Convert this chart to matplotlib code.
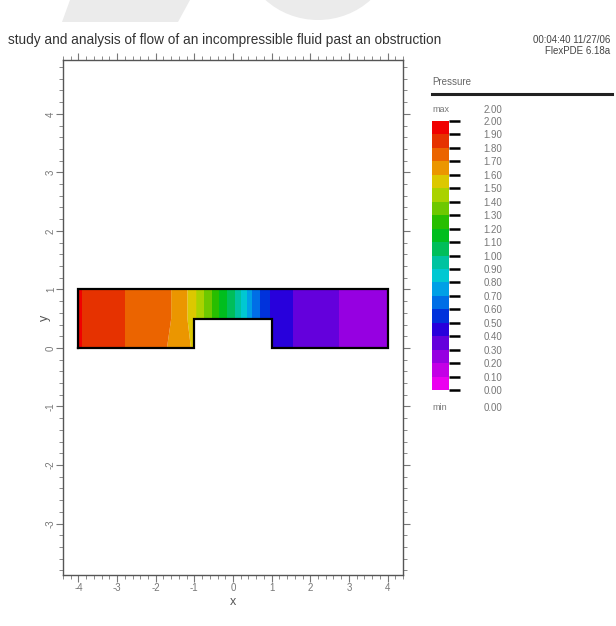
import numpy as np
import matplotlib
matplotlib.use("Agg")
import matplotlib.pyplot as plt
from matplotlib.colors import ListedColormap, BoundaryNorm
from matplotlib.patches import Polygon, Ellipse
from matplotlib.ticker import MultipleLocator

# ---------------- data ----------------
title = "study and analysis of flow of an incompressible fluid past an obstruction"
stamp1 = "00:04:40 11/27/06"
stamp2 = "FlexPDE 6.18a"

# sample positions along the channel (x) and rows (y)
x_nodes = [-4.0, -3.9, -2.8, -1.6, -1.18, -1.0, -0.95, -0.75, -0.55, -0.35, -0.15,
           0.05, 0.2, 0.35, 0.5, 0.7, 0.95, 1.0, 1.55, 2.75, 4.0]
y_nodes = [0.0, 0.5, 1.0]
# pressure (None = inside obstruction)
p_bottom = [1.97, 1.9, 1.8, 1.69, 1.62, 1.58, None, None, None, None, None,
            None, None, None, None, None, None, 0.47, 0.4, 0.3, 0.21]
p_middle = [1.97, 1.9, 1.8, 1.7, 1.6, 1.54, 1.5, 1.4, 1.3, 1.2, 1.1,
            1.0, 0.9, 0.8, 0.7, 0.6, 0.5, 0.49, 0.4, 0.3, 0.21]
p_top = [1.97, 1.9, 1.8, 1.7, 1.6, 1.54, 1.5, 1.4, 1.3, 1.2, 1.1,
         1.0, 0.9, 0.8, 0.7, 0.6, 0.5, 0.49, 0.4, 0.3, 0.21]

levels = [round(0.1 * i, 2) for i in range(21)]
band_colors = ['#eb00f0', '#c300e6', '#9600e1', '#6400dc', '#2800dc', '#0032dc',
               '#006ee6', '#00a0e6', '#00c8d2', '#00c3a0', '#00be5a', '#00be1e',
               '#28be00', '#6ec800', '#aad200', '#dcc800', '#eb9600', '#eb6400',
               '#e63200', '#f00000']

domain_x = [-4, -1, -1, 1, 1, 4, 4, -4, -4]
domain_y = [0, 0, 0.5, 0.5, 0, 0, 1, 1, 0]

# ---------------- figure ----------------
plt.rcParams['axes.unicode_minus'] = False
plt.rcParams['font.family'] = ['Liberation Sans', 'DejaVu Sans']
W, H = 616, 626
fig = plt.figure(figsize=(W / 100, H / 100), dpi=100)

# watermark shapes (light grey)
def px(x, y):
    return (x / W, 1 - y / H)
fig.patches.append(Polygon([px(70, 0), px(190, 0), px(178, 22), px(62, 22)],
                           closed=True, transform=fig.transFigure,
                           facecolor='#ebebeb', edgecolor='none', zorder=0))
fig.patches.append(Ellipse(px(318, -50), 150 / W, 140 / H, transform=fig.transFigure,
                           facecolor='#ebebeb', edgecolor='none', zorder=0))

ax = fig.add_axes([63 / W, 1 - 575 / H, 340 / W, 515 / H])

X, Y = np.meshgrid(np.array(x_nodes), np.array(y_nodes))
Z = np.array([[np.nan if v is None else v for v in row]
              for row in (p_bottom, p_middle, p_top)], dtype=float)
Z = np.ma.masked_invalid(Z)

cmap = ListedColormap(band_colors)
norm = BoundaryNorm(levels, cmap.N)
cf = ax.contourf(X, Y, Z, levels=levels, cmap=cmap, norm=norm, corner_mask=False,
                 antialiased=True)
ax.plot(domain_x, domain_y, color='black', lw=1.6, solid_joinstyle='miter')

ax.set_xlim(-4.4, 4.4)
ax.set_ylim(-3.88, 4.92)
ax.xaxis.set_major_locator(MultipleLocator(1))
ax.yaxis.set_major_locator(MultipleLocator(1))
ax.xaxis.set_minor_locator(MultipleLocator(0.2))
ax.yaxis.set_minor_locator(MultipleLocator(0.2))
ax.tick_params(which='both', direction='out', top=True, right=True,
               color='#777777', labelcolor='#777777', labelsize=7)
ax.tick_params(which='major', length=5, width=0.8)
ax.tick_params(which='minor', length=3, width=0.6)
ax.tick_params(axis='y', which='major', pad=0)
ax.tick_params(axis='x', which='major', pad=1)
for lab in ax.get_yticklabels():
    lab.set_rotation(90)
    lab.set_va('center')
for sp in ax.spines.values():
    sp.set_color('#555555')
    sp.set_linewidth(1.0)
ax.set_xlabel('x', color='#555555', fontsize=9, labelpad=2)
ax.set_ylabel('y', color='#555555', fontsize=9)
ax.yaxis.set_label_coords(-0.035, 0.5)

fig.text(8 / W, 1 - 40 / H, title, fontsize=9.8, color='#333333', va='center', ha='left')
fig.text(610 / W, 1 - 40 / H, stamp1, fontsize=7, color='#444444', va='center', ha='right')
fig.text(610 / W, 1 - 51 / H, stamp2, fontsize=7, color='#444444', va='center', ha='right')

# legend / colour key
fig.text(432 / W, 1 - 82 / H, 'Pressure', fontsize=7, color='#666666', va='center', ha='left')
fig.add_artist(plt.Line2D([432 / W, 612 / W], [1 - 94 / H, 1 - 94 / H],
                          transform=fig.transFigure, color='#222222', lw=2.2))
fig.text(432 / W, 1 - 110 / H, 'max', fontsize=6.5, color='#777777', va='center', ha='left')
fig.text(484 / W, 1 - 110 / H, '%.2f' % levels[-1], fontsize=7, color='#777777', va='center', ha='left')
fig.text(432 / W, 1 - 408 / H, 'min', fontsize=6.5, color='#777777', va='center', ha='left')
fig.text(484 / W, 1 - 408 / H, '%.2f' % levels[0], fontsize=7, color='#777777', va='center', ha='left')

cax = fig.add_axes([432 / W, 1 - 390 / H, 17 / W, 269 / H])
cb = fig.colorbar(cf, cax=cax, ticks=levels)
cb.outline.set_visible(False)
cax.yaxis.set_ticks_position('right')
cax.tick_params(axis='y', direction='out', length=8, width=1.8, color='black',
                pad=17, labelsize=7, labelcolor='#777777')
cax.set_yticklabels(['%.2f' % v for v in levels])

fig.savefig('out.png', dpi=100)
